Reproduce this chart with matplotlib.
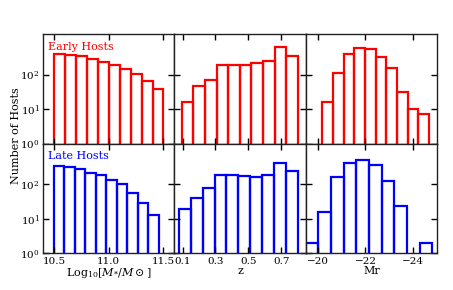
import numpy as np
import matplotlib
matplotlib.use("Agg")
import matplotlib.pyplot as plt

plt.rcParams['font.family'] = ['DejaVu Serif']
plt.rcParams['mathtext.fontset'] = 'dejavuserif'

# ---- data ----
row_labels = ["Early Hosts", "Late Hosts"]
row_colors = ["red", "blue"]

# stellar mass histograms
mass_start = [10.5, 10.5]
mass_width = [0.1, 0.0955]
mass_early = [406, 372, 340, 291, 238, 186, 149, 107, 65, 39]
mass_late = [338, 316, 272, 218, 192, 135, 102, 57, 28, 13]

# redshift histograms
z_start = [0.094, 0.0774]
z_width = [0.0708, 0.0724]
z_early = [16, 48, 72, 195, 186, 186, 223, 243, 648, 355]
z_late = [19, 39, 81, 184, 192, 172, 161, 192, 410, 244]

# absolute magnitude histograms
mr_start = [-20.2, -19.5]
mr_width = [-0.445, -0.53]
mr_early = [16, 114, 388, 607, 554, 333, 160, 32, 10, 7]
mr_late = [2, 16, 161, 410, 521, 360, 124, 24, 0, 2]

mass_ticks = [10.5, 11.0, 11.5]
z_ticks = [0.1, 0.3, 0.5, 0.7]
mr_ticks = [-20, -22, -24]

counts = [[mass_early, z_early, mr_early], [mass_late, z_late, mr_late]]
starts = [mass_start, z_start, mr_start]
widths = [mass_width, z_width, mr_width]
xlims = [(10.4, 11.6), (0.05, 0.85), (-19.5, -25.0)]
xticks = [mass_ticks, z_ticks, mr_ticks]
xticklabels = [["10.5", "11.0", "11.5"], ["0.1", "0.3", "0.5", "0.7"],
               ["\u221220", "\u221222", "\u221224"]]
xlabels = [r"Log$_{10}[M_{*}/M\odot]$", "z", "Mr"]

fig, axes = plt.subplots(2, 3, figsize=(4.53, 2.9), dpi=100)
fig.subplots_adjust(left=0.095, right=0.965, top=0.883, bottom=0.126,
                    wspace=0, hspace=0)

for r in range(2):
    for c in range(3):
        ax = axes[r, c]
        vals = np.array(counts[r][c], dtype=float)
        n = len(vals)
        left = starts[c][r] + widths[c][r] * np.arange(n)
        ax.bar(left, vals, width=widths[c][r], align='edge', fill=False,
               edgecolor=row_colors[r], linewidth=1.6)
        ax.set_yscale('log')
        ax.set_ylim(1, 1500)
        ax.set_xlim(*xlims[c])
        ax.set_xticks(xticks[c])
        ax.yaxis.set_minor_locator(matplotlib.ticker.NullLocator())
        ax.set_yticks([1, 10, 100])
        ax.tick_params(which='both', direction='in', top=True, right=True,
                       length=4, width=1, labelsize=7.5, pad=2.5)
        for s in ax.spines.values():
            s.set_linewidth(1.0)
            s.set_color('#222222')
        if r == 1:
            ax.set_xticklabels(xticklabels[c])
            ax.set_xlabel(xlabels[c], fontsize=8, labelpad=0)
        else:
            ax.set_xticklabels([])
        if c != 0:
            ax.set_yticklabels([])
    axes[r, 0].text(0.04, 0.93, row_labels[r], color=row_colors[r],
                    transform=axes[r, 0].transAxes, fontsize=8,
                    ha='left', va='top')

fig.text(0.035, 0.534, "Number of Hosts", rotation=90, ha='center',
         va='center', fontsize=8)

fig.savefig("out.png", dpi=100)
